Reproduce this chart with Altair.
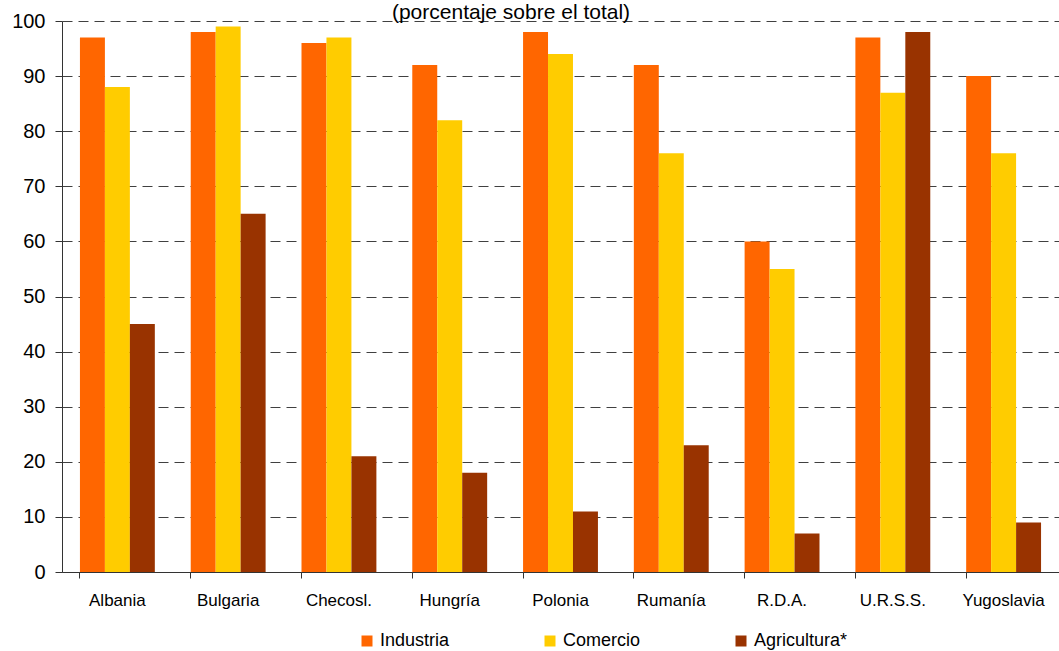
import altair as alt
import pandas as pd

countries = ["Albania", "Bulgaria", "Checosl.", "Hungría", "Polonia", "Rumanía", "R.D.A.", "U.R.S.S.", "Yugoslavia"]
series = ["Industria", "Comercio", "Agricultura*"]
industria = [97, 98, 96, 92, 98, 92, 60, 97, 90]
comercio = [88, 99, 97, 82, 94, 76, 55, 87, 76]
agricultura = [45, 65, 21, 18, 11, 23, 7, 98, 9]
colors = ["#FF6600", "#FFCC00", "#993300"]
title_text = "(porcentaje sobre el total)"

rows = []
for i, c in enumerate(countries):
    for s, vals in zip(series, [industria, comercio, agricultura]):
        rows.append({"pais": c, "serie": s, "valor": vals[i]})
df = pd.DataFrame(rows)

FONT = "Liberation Sans"

bars = alt.Chart(df).mark_bar().encode(
    x=alt.X("pais:N", sort=countries, title=None,
            scale=alt.Scale(paddingInner=0.324, paddingOuter=0.162),
            axis=alt.Axis(labelAngle=0, labelFontSize=17, labelFont=FONT, labelColor="#000000",
                          labelPadding=14, tickSize=6, tickColor="#333333", domainColor="#333333",
                          bandPosition=0, grid=False, labelBound=False)),
    xOffset=alt.XOffset("serie:N", sort=series),
    y=alt.Y("valor:Q", title=None,
            scale=alt.Scale(domain=[0, 100], nice=False),
            axis=alt.Axis(values=list(range(0, 101, 10)), labelFontSize=20, labelFont=FONT,
                          labelColor="#000000", labelPadding=10, tickSize=7, tickColor="#333333",
                          domainColor="#333333", gridColor="#404040", gridDash=[10, 6],
                          gridWidth=1, gridOpacity=1)),
    color=alt.Color("serie:N", sort=series, scale=alt.Scale(domain=series, range=colors),
                    legend=alt.Legend(title=None, orient="none", direction="horizontal",
                                      legendX=296, legendY=611, symbolType="square",
                                      symbolSize=121, symbolStrokeWidth=0, labelFontSize=18,
                                      labelFont=FONT, labelColor="#000000", columnPadding=91,
                                      symbolOpacity=1, labelOffset=4, padding=0)),
)

title = alt.Chart(pd.DataFrame({"t": [title_text]})).mark_text(
    font=FONT, fontSize=21, color="#000000", baseline="alphabetic", align="center"
).encode(x=alt.value(449), y=alt.value(-2), text="t:N")

chart = alt.layer(bars, title).properties(
    width=997, height=551,
    autosize=alt.AutoSizeParams(type="none"),
    padding={"left": 62, "top": 21, "right": 0, "bottom": 79},
).configure_view(stroke=None).configure_axis(domainWidth=1, tickWidth=1)

chart.save("out.html", embed_options={"renderer": "svg", "actions": False})
